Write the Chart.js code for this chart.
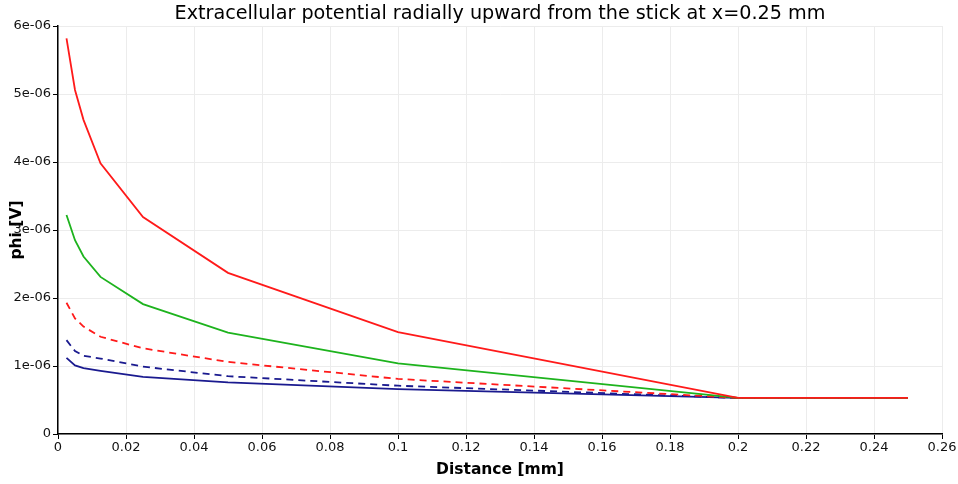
<!DOCTYPE html>
<html>
<head>
<meta charset="utf-8">
<script src="https://cdn.jsdelivr.net/npm/chart.js@4.4.1/dist/chart.umd.min.js"></script>
<style>
  html, body { margin: 0; padding: 0; background: #fff; }
  #wrap { width: 958px; height: 484px; }
</style>
</head>
<body>
<div id="wrap"><canvas id="c" width="958" height="484"></canvas></div>
<script>
// Radial distance from the stick [mm]
const distance = [0.0025, 0.005, 0.0075, 0.0125, 0.025, 0.05, 0.1, 0.2, 0.25];

// Extracellular potential [V] for each curve
const phiRed      = [5.82e-6, 5.06e-6, 4.62e-6, 3.98e-6, 3.19e-6, 2.37e-6, 1.50e-6, 0.53e-6, 0.53e-6];
const phiGreen    = [3.22e-6, 2.85e-6, 2.61e-6, 2.31e-6, 1.91e-6, 1.49e-6, 1.04e-6, 0.53e-6, 0.53e-6];
const phiRedDash  = [1.93e-6, 1.70e-6, 1.58e-6, 1.43e-6, 1.26e-6, 1.06e-6, 0.81e-6, 0.53e-6, 0.53e-6];
const phiBlueDash = [1.38e-6, 1.22e-6, 1.15e-6, 1.11e-6, 0.99e-6, 0.85e-6, 0.71e-6, 0.53e-6, 0.53e-6];
const phiBlue     = [1.12e-6, 1.01e-6, 0.97e-6, 0.93e-6, 0.84e-6, 0.76e-6, 0.66e-6, 0.53e-6, 0.53e-6];

const xTicks = [0, 0.02, 0.04, 0.06, 0.08, 0.1, 0.12, 0.14, 0.16, 0.18, 0.2, 0.22, 0.24, 0.26];

const pts = ys => distance.map((x, i) => ({ x: x, y: ys[i] }));

const FONT = "'DejaVu Sans', sans-serif";

function series(ys, color, dash) {
  return {
    data: pts(ys),
    borderColor: color,
    borderWidth: 1.8,
    borderDash: dash || [],
    pointRadius: 0,
    tension: 0,
    fill: false
  };
}

new Chart(document.getElementById('c'), {
  type: 'line',
  data: {
    datasets: [
      series(phiRed, '#ff1a1a'),
      series(phiGreen, '#1db31d'),
      series(phiRedDash, '#ff1a1a', [7, 5]),
      series(phiBlueDash, '#1a1a8f', [7, 5]),
      series(phiBlue, '#1a1a8f')
    ]
  },
  options: {
    responsive: false,
    animation: false,
    layout: { padding: { left: 0, right: 16, top: 0, bottom: 0 } },
    plugins: {
      legend: { display: false },
      tooltip: { enabled: false },
      title: {
        display: true,
        fullSize: false,
        text: 'Extracellular potential radially upward from the stick at x=0.25 mm',
        color: '#000',
        font: { family: FONT, size: 19.2, weight: 'normal', lineHeight: 1.2 },
        padding: { top: 2, bottom: 1 }
      }
    },
    scales: {
      x: {
        type: 'linear',
        min: 0,
        max: 0.26,
        afterBuildTicks: s => { s.ticks = xTicks.map(v => ({ value: v })); },
        afterFit: s => { s.height = 50; },
        ticks: {
          color: '#111',
          font: { family: FONT, size: 13 },
          padding: 1,
          maxRotation: 0,
          autoSkip: false,
          callback: v => String(Math.round(v * 100) / 100)
        },
        grid: { color: '#ececec', tickColor: '#000', tickLength: 5, lineWidth: 1 },
        border: { color: '#000', width: 1.5 },
        title: {
          display: true,
          text: 'Distance [mm]',
          color: '#000',
          font: { family: FONT, size: 15.5, weight: 'bold', lineHeight: 1.2 },
          padding: { top: 4, bottom: 5 }
        }
      },
      y: {
        type: 'linear',
        min: 0,
        max: 6e-6,
        afterFit: s => { s.width = 58; },
        ticks: {
          stepSize: 1e-6,
          color: '#111',
          font: { family: FONT, size: 13 },
          padding: 2,
          callback: v => {
            if (Math.abs(v) < 1e-12) return '0';
            const [m, e] = Number(v).toExponential(0).split('e');
            const n = Math.abs(parseInt(e, 10));
            return m + 'e' + (parseInt(e, 10) < 0 ? '-' : '+') + String(n).padStart(2, '0');
          }
        },
        grid: { color: '#ececec', tickColor: '#000', tickLength: 5, lineWidth: 1 },
        border: { color: '#000', width: 1.5 },
        title: {
          display: true,
          text: 'phi [V]',
          color: '#000',
          font: { family: FONT, size: 15.5, weight: 'bold', lineHeight: 1.2 },
          padding: { top: 8, bottom: 0 }
        }
      }
    }
  }
});
</script>
</body>
</html>
